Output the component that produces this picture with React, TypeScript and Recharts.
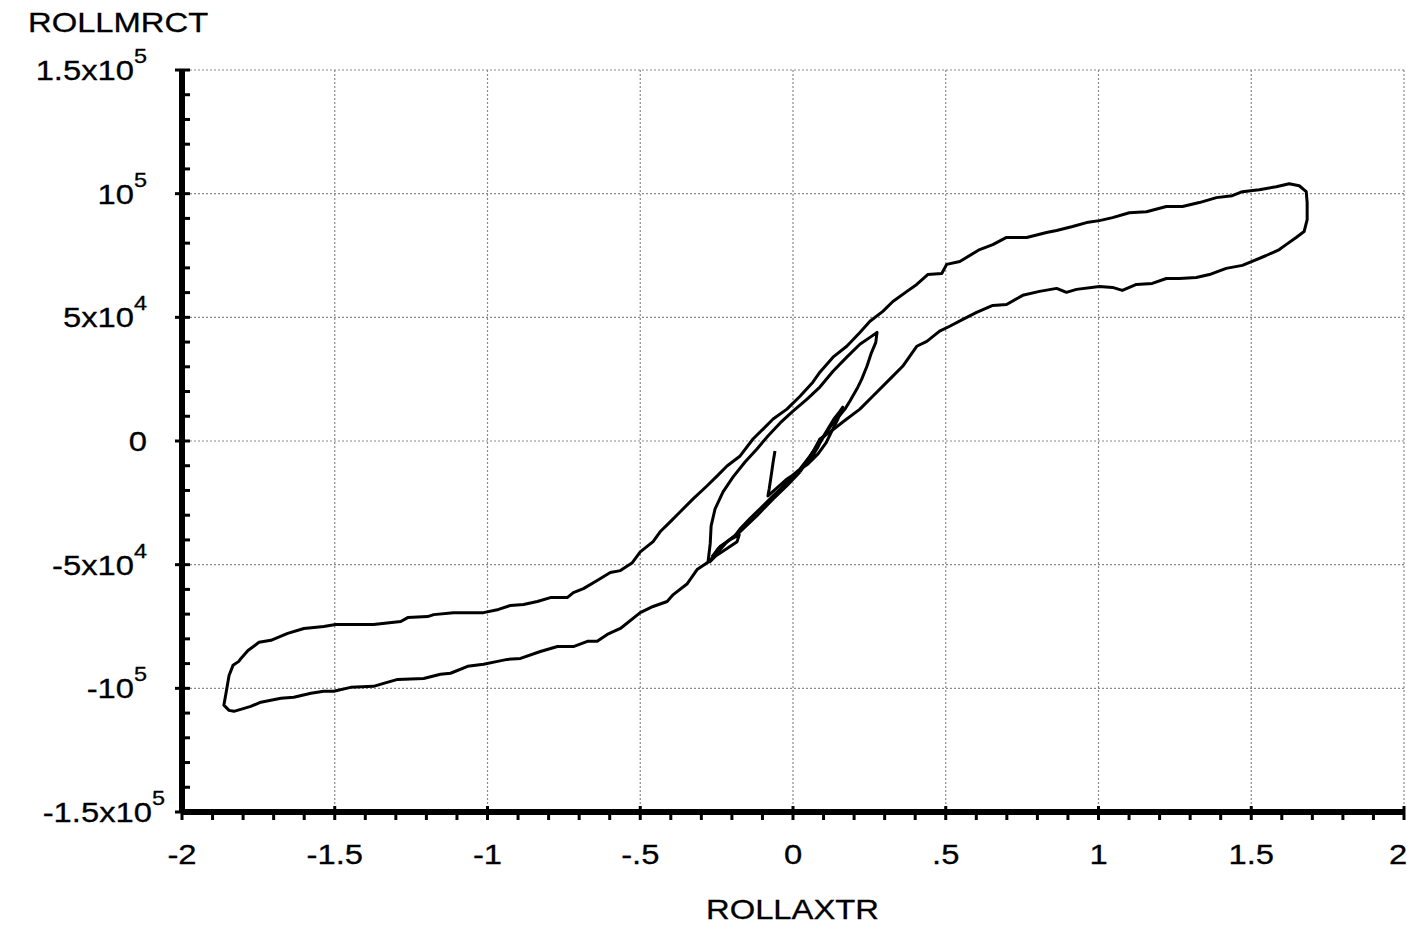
import { LineChart, Line, XAxis, YAxis, ReferenceLine } from 'recharts'

const FONT = '"Liberation Sans", Arial, Helvetica, sans-serif'

// x axis: minor tick every 0.1, labels on every 0.5
const xTicks = [
  -2, -1.9, -1.8, -1.7, -1.6, -1.5, -1.4, -1.3, -1.2, -1.1, -1, -0.9, -0.8, -0.7, -0.6, -0.5, -0.4, -0.3, -0.2, -0.1, 0,
  0.1, 0.2, 0.3, 0.4, 0.5, 0.6, 0.7, 0.8, 0.9, 1, 1.1, 1.2, 1.3, 1.4, 1.5, 1.6, 1.7, 1.8, 1.9, 2,
]
const xLabels: Record<string, string> = {
  '-2': '-2', '-1.5': '-1.5', '-1': '-1', '-0.5': '-.5', '0': '0', '0.5': '.5', '1': '1', '1.5': '1.5', '2': '2',
}
const xGrid = [-1.5, -1, -0.5, 0, 0.5, 1, 1.5, 2]

// y axis: minor tick every 1e4, labels on every 5e4
const yTicks = [
  -150000, -140000, -130000, -120000, -110000, -100000, -90000, -80000, -70000, -60000, -50000, -40000, -30000,
  -20000, -10000, 0, 10000, 20000, 30000, 40000, 50000, 60000, 70000, 80000, 90000, 100000, 110000, 120000,
  130000, 140000, 150000,
]
const yLabels: Record<string, [string, string]> = {
  '150000': ['1.5x10', '5'],
  '100000': ['10', '5'],
  '50000': ['5x10', '4'],
  '0': ['0', ''],
  '-50000': ['-5x10', '4'],
  '-100000': ['-10', '5'],
  '-150000': ['-1.5x10', '5'],
}
const yGrid = [-100000, -50000, 0, 50000, 100000, 150000]

// ROLLAXTR / ROLLMRCT traces
const outerLoop: [number, number][] = [
  [0.023, -12500], [-0.02, -18100], [-0.065, -23400], [-0.118, -30200], [-0.173, -36700], [-0.216, -40700],
  [-0.271, -48400], [-0.314, -52000], [-0.346, -57700], [-0.392, -62100], [-0.412, -64900], [-0.458, -66900],
  [-0.5, -69400], [-0.565, -75800], [-0.608, -78200], [-0.641, -81000], [-0.673, -81000], [-0.719, -83100],
  [-0.771, -83100], [-0.827, -85100], [-0.892, -87900], [-0.935, -88300], [-0.967, -89100], [-1.013, -90300],
  [-1.065, -91100], [-1.121, -93900], [-1.154, -94300], [-1.209, -96000], [-1.294, -96400], [-1.34, -98000],
  [-1.373, -99200], [-1.448, -99600], [-1.503, -101200], [-1.536, -101200], [-1.578, -102000], [-1.634, -103600],
  [-1.676, -104000], [-1.742, -105600], [-1.775, -107300], [-1.83, -109300], [-1.846, -108900], [-1.863, -106800],
  [-1.856, -102000], [-1.846, -94800], [-1.833, -90700], [-1.814, -89100], [-1.807, -87900], [-1.784, -84700],
  [-1.748, -81400], [-1.709, -80600], [-1.654, -77800], [-1.601, -75800], [-1.536, -75000], [-1.497, -74200],
  [-1.373, -74200], [-1.284, -73000], [-1.261, -71400], [-1.196, -71000], [-1.176, -70200], [-1.111, -69400],
  [-1.013, -69400], [-0.964, -68100], [-0.925, -66500], [-0.882, -66100], [-0.837, -64900], [-0.794, -63300],
  [-0.739, -63300], [-0.719, -61300], [-0.686, -59700], [-0.641, -56400], [-0.598, -53200], [-0.565, -52400],
  [-0.526, -49200], [-0.5, -44800], [-0.458, -40700], [-0.435, -36700], [-0.402, -32700], [-0.369, -28600],
  [-0.327, -23400], [-0.281, -18100], [-0.248, -14100], [-0.216, -10100], [-0.173, -6050], [-0.131, 800],
  [-0.098, 4800], [-0.065, 8900], [-0.02, 12900], [0.023, 18100], [0.065, 23800], [0.088, 27800],
  [0.131, 33900], [0.176, 38300], [0.219, 43900], [0.252, 48400], [0.294, 52400], [0.327, 56400],
  [0.373, 60500], [0.405, 63300], [0.441, 67300], [0.487, 67700], [0.503, 71400], [0.546, 72600],
  [0.611, 77400], [0.654, 79400], [0.699, 82300], [0.765, 82300], [0.83, 84300], [0.863, 85100],
  [0.915, 86700], [0.961, 88300], [1.003, 89100], [1.046, 90300], [1.101, 92300], [1.157, 92700],
  [1.222, 94800], [1.275, 94800], [1.33, 96400], [1.386, 98400], [1.438, 99200], [1.471, 100800],
  [1.526, 101600], [1.582, 102800], [1.624, 104000], [1.657, 103200], [1.68, 100800], [1.683, 96400],
  [1.683, 89500], [1.673, 84700], [1.647, 82300], [1.614, 79400], [1.592, 77400], [1.549, 75000],
  [1.503, 72600], [1.471, 71000], [1.418, 69800], [1.363, 67300], [1.32, 66100], [1.265, 65700],
  [1.222, 65700], [1.176, 63700], [1.124, 63300], [1.078, 60900], [1.046, 62100], [1.003, 62500],
  [0.928, 61300], [0.895, 60100], [0.863, 61700], [0.807, 60500], [0.752, 58900], [0.699, 55200],
  [0.654, 54800], [0.601, 52000], [0.556, 49200], [0.513, 46400], [0.48, 44400], [0.438, 40300],
  [0.405, 38300], [0.359, 30200], [0.317, 25000], [0.261, 18100], [0.219, 12900], [0.163, 7700],
  [0.121, 3600], [0.088, 800], [0.065, -4400], [0.023, -12500],
]

const innerLoop: [number, number][] = [
  [-0.278, -48800], [-0.271, -41500], [-0.268, -34300], [-0.255, -27400], [-0.229, -20600], [-0.196, -14500],
  [-0.157, -8500], [-0.118, -3200], [-0.082, 2000], [-0.042, 7300], [0.0, 12100], [0.046, 16900],
  [0.088, 21800], [0.131, 28200], [0.176, 33900], [0.219, 39100], [0.252, 41900], [0.275, 43900],
  [0.271, 39900], [0.255, 35100], [0.242, 30200], [0.225, 25000], [0.209, 21000], [0.186, 16100],
  [0.17, 12900], [0.154, 10500], [0.137, 8100], [0.121, 5600], [0.108, 2800], [0.095, 800],
  [0.072, -3200], [0.056, -6000], [0.023, -11300], [-0.01, -15300], [-0.042, -19400], [-0.075, -23400],
  [-0.108, -27400], [-0.141, -31400], [-0.173, -35500], [-0.19, -38300], [-0.216, -40700], [-0.245, -43500],
  [-0.271, -48400],
]

const lowerEye: [number, number][] = [
  [-0.265, -46800], [-0.239, -42700], [-0.206, -39900], [-0.176, -37900], [-0.183, -40700], [-0.216, -43500],
  [-0.252, -46400], [-0.275, -49200],
]

const centerStub: [number, number][] = [
  [-0.059, -4000], [-0.065, -8500], [-0.072, -14500], [-0.078, -19400], [-0.082, -22200],
  [-0.056, -19400], [-0.023, -15700], [0.01, -12900], [0.039, -10100], [0.062, -6500], [0.082, -2400],
  [0.098, 1600], [0.114, 4800], [0.134, 8900], [0.154, 12100], [0.163, 13700], [0.147, 8900],
  [0.127, 4000], [0.108, -800], [0.082, -5200], [0.049, -9300], [0.016, -12100], [-0.016, -15300],
]

const toRows = (pts: [number, number][]) => pts.map(([x, y]) => ({ x, y }))
const traces = [outerLoop, innerLoop, lowerEye, centerStub].map(toRows)

function XTick({ x, y, payload }: any) {
  const label = xLabels[String(payload.value)]
  const major = label !== undefined
  // last label is pulled in a little so it stays on the page
  const lx = payload.value === 2 ? x - 6 : x
  return (
    <g>
      <line x1={x} x2={x} y1={major ? y - 6 : y + 2} y2={y + 8} stroke="#000" strokeWidth={3} />
      {major && (
        <text
          transform={`translate(${lx},${y + 52}) scale(1.17,1)`}
          textAnchor="middle"
          fontSize={28}
          fontFamily={FONT}
          fill="#000"
          stroke="#000"
          strokeWidth={0.3}
        >
          {label}
        </text>
      )}
    </g>
  )
}

function YTick({ x, y, payload }: any) {
  const label = yLabels[String(payload.value)]
  const major = label !== undefined
  // bottom label sits a bit further right in the original
  const lx = payload.value === -150000 ? x - 17 : x - 35
  return (
    <g>
      <line x1={major ? x - 7 : x + 2} x2={x + 8} y1={y} y2={y} stroke="#000" strokeWidth={3} />
      {major && (
        <text
          transform={`translate(${lx},${y + 10}) scale(1.17,1)`}
          textAnchor="end"
          fontSize={28}
          fontFamily={FONT}
          fill="#000"
          stroke="#000"
          strokeWidth={0.3}
        >
          <tspan>{label[0]}</tspan>
          {label[1] && (
            <tspan fontSize={20} dy={-17}>
              {label[1]}
            </tspan>
          )}
        </text>
      )}
    </g>
  )
}

const titleStyle: React.CSSProperties = {
  position: 'absolute',
  fontFamily: FONT,
  fontSize: 28,
  lineHeight: '28px',
  color: '#000',
  whiteSpace: 'nowrap',
  WebkitTextStroke: '0.3px #000',
  transform: 'scaleX(1.17)',
  transformOrigin: 'left center',
}

export default function App() {
  return (
    <div style={{ position: 'absolute', left: 0, top: 0, width: 1407, height: 925, background: '#fff' }}>
      <LineChart width={1407} height={925} margin={{ top: 70, right: 3, bottom: 53, left: 12 }}>
        {xGrid.map((v) => (
          <ReferenceLine key={'gx' + v} x={v} stroke="#8a8a8a" strokeWidth={1.2} strokeDasharray="2 2" />
        ))}
        {yGrid.map((v) => (
          <ReferenceLine key={'gy' + v} y={v} stroke="#8a8a8a" strokeWidth={1.2} strokeDasharray="2 2" />
        ))}
        <XAxis
          type="number"
          dataKey="x"
          domain={[-2, 2]}
          ticks={xTicks}
          interval={0}
          height={60}
          tickSize={0}
          tickMargin={0}
          tickLine={false}
          tick={<XTick />}
          axisLine={{ stroke: '#000', strokeWidth: 6 }}
          allowDataOverflow
        />
        <YAxis
          type="number"
          dataKey="y"
          domain={[-150000, 150000]}
          ticks={yTicks}
          interval={0}
          width={170}
          tickSize={0}
          tickMargin={0}
          tickLine={false}
          tick={<YTick />}
          axisLine={{ stroke: '#000', strokeWidth: 6 }}
          allowDataOverflow
        />
        {traces.map((rows, i) => (
          <Line
            key={i}
            data={rows}
            dataKey="y"
            type="linear"
            stroke="#000"
            strokeWidth={3}
            strokeLinejoin="round"
            dot={false}
            activeDot={false}
            isAnimationActive={false}
          />
        ))}
      </LineChart>
      <div style={{ ...titleStyle, left: 28, top: 9 }}>ROLLMRCT</div>
      <div style={{ ...titleStyle, left: 706, top: 896 }}>ROLLAXTR</div>
    </div>
  )
}
